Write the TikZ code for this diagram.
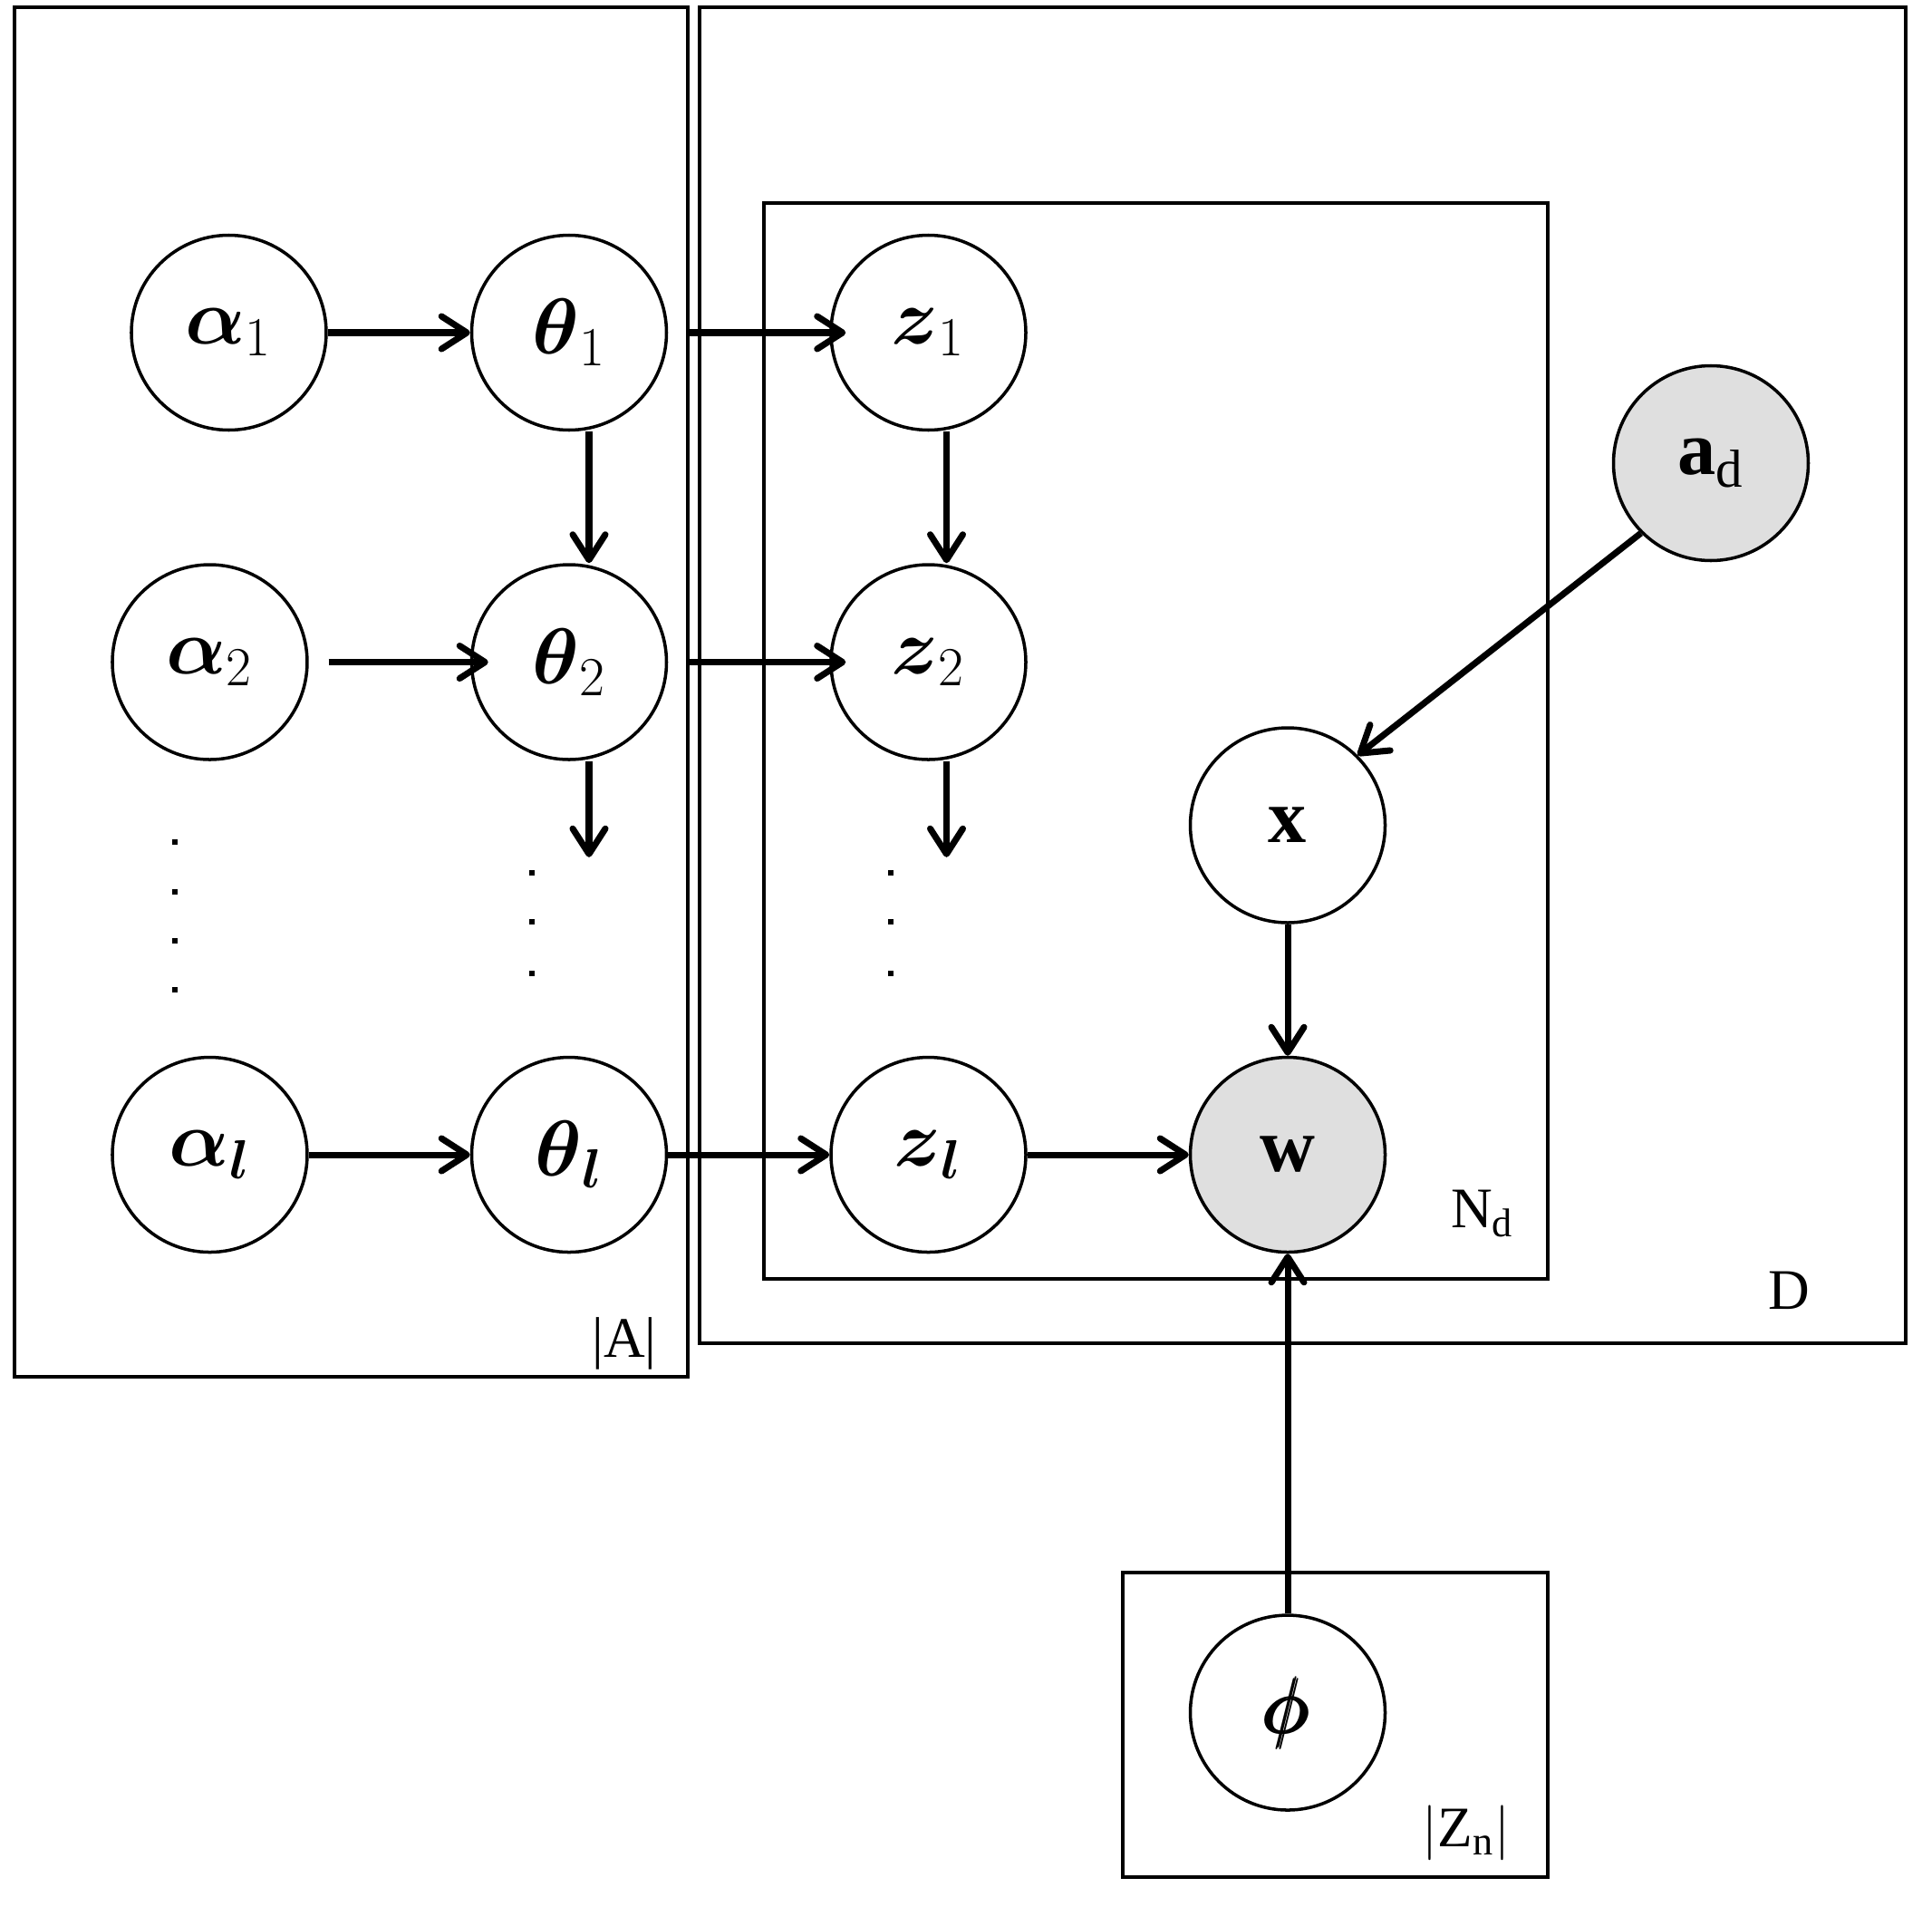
\documentclass[tikz,border=0pt]{standalone}
\usepackage{amsmath}
\usepackage{amssymb}
\usepackage{fontspec}
\setmainfont{Liberation Serif}
\usepackage{tikz}
\usetikzlibrary{arrows.meta,positioning}

\begin{document}
\begin{tikzpicture}[node distance=1.45cm, every node/.style={font=\fontsize{24}{28}\selectfont},
    var/.style={draw, circle, line width=1pt, fill=white, minimum size=2.15cm, inner sep=0pt},
    obs/.style={var, fill=gray!25},
    edge/.style={line width=2pt, -{Straight Barb[length=2.8mm, width=3.6mm, round]}},
    plate/.style={line width=1.1pt},
    platelabel/.style={font=\fontsize{18}{22}\selectfont},
    vdot/.style={fill, inner sep=0pt, minimum size=0.55mm}]
    \useasboundingbox (0,0) rectangle (21.32,-21.04);
    % plates
    \draw[plate] (0.16,-0.08) rectangle (7.59,-15.19);
    \draw[plate] (7.72,-0.08) rectangle (21.03,-14.82);
    \draw[plate] (8.43,-2.24) rectangle (17.08,-14.11);
    \draw[plate] (12.39,-17.35) rectangle (17.08,-20.71);
    \node[platelabel] (lA) at (6.89,-14.82) {|A|};
    \node[platelabel] (lD) at (19.74,-14.24) {D};
    \node[platelabel] (lN) at (16.36,-13.39) {N$_{\mathrm{d}}$};
    \node[platelabel] (lZ) at (16.18,-20.22) {$|$Z$_{\mathrm{n}}|$};
    % variables
    \node[var] (th1) at (6.28,-3.67) {$\boldsymbol{\theta}_1$};
    \node[var, left=1.57cm of th1] (a1) {$\boldsymbol{\alpha}_1$};
    \node[var, right=1.78cm of th1] (z1) {$\boldsymbol{z}_1$};
    \node[var, below=of th1] (th2) {$\boldsymbol{\theta}_2$};
    \node[var, left=1.78cm of th2] (a2) {$\boldsymbol{\alpha}_2$};
    \node[var, right=1.78cm of th2] (z2) {$\boldsymbol{z}_2$};
    \node[var, below=3.25cm of th2] (thl) {$\boldsymbol{\theta}_{\boldsymbol{l}}$};
    \node[var, left=1.78cm of thl] (al) {$\boldsymbol{\alpha}_{\boldsymbol{l}}$};
    \node[var, right=1.78cm of thl] (zl) {$\boldsymbol{z}_{\boldsymbol{l}}$};
    \node[obs, right=1.78cm of zl] (w) {$\mathbf{w}$};
    \node[var, above=of w] (x) {$\mathbf{x}$};
    \node[obs] (ad) at (18.88,-5.11) {$\mathbf{a}_{\mathrm{d}}$};
    \node[var, below=3.97cm of w] (phi) {$\pmb{\phi}$};
    % dots
    \foreach \i/\y in {1/9.29,2/9.84,3/10.38,4/10.92}
      \node[vdot] (adot\i) at (1.93,-\y) {};
    \foreach \i/\y in {1/9.63,2/10.17,3/10.74} {
      \node[vdot] (tdot\i) at (5.87,-\y) {};
      \node[vdot] (zdot\i) at (9.83,-\y) {};
    }
    \coordinate (th2d) at ([xshift=0.22cm,yshift=-1.06cm]th2.south);
    \coordinate (z2d) at ([xshift=0.2cm,yshift=-1.06cm]z2.south);
    % edges
    \draw[edge] (a1) -- (th1);
    \draw[edge] ([xshift=0.21cm]th1.east) -- ([xshift=0.18cm]z1.west);
    \draw[edge] ([xshift=0.22cm]th1.south) -- ([xshift=0.22cm]th2.north);
    \draw[edge] ([xshift=0.2cm]z1.south) -- ([xshift=0.2cm]z2.north);
    \draw[edge] ([xshift=0.22cm]a2.east) -- ([xshift=0.2cm]th2.west);
    \draw[edge] ([xshift=0.21cm]th2.east) -- ([xshift=0.18cm]z2.west);
    \draw[edge] ([xshift=0.22cm]th2.south) -- (th2d);
    \draw[edge] ([xshift=0.2cm]z2.south) -- (z2d);
    \draw[edge] (al) -- (thl);
    \draw[edge] (thl) -- (zl);
    \draw[edge] (zl) -- (w);
    \draw[edge] (x) -- (w);
    \draw[edge] (ad.south west) -- (x.north east);
    \draw[edge] (phi) -- (w);
\end{tikzpicture}
\end{document}
